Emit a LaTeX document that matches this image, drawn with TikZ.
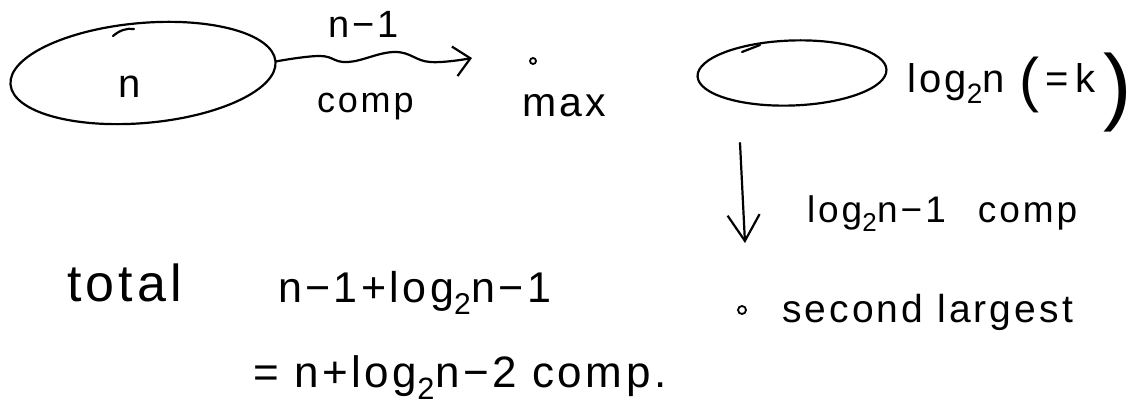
\documentclass[tikz,border=0pt]{standalone}
\usepackage{fontspec}
\setmainfont{Liberation Sans}[LetterSpace=8]
\usetikzlibrary{shapes.geometric,arrows.meta}
\begin{document}
\begin{tikzpicture}[x=1pt,y=-1pt,
  ink/.style={line width=2.2pt, line cap=round, line join=round},
  blob/.style={ink, draw, ellipse, inner sep=0pt},
  txt/.style={anchor=base west, inner sep=0pt, outer sep=0pt},
  fs/.style={font=\fontsize{#1}{#1}\selectfont},
  dotmark/.style={draw, line width=1.8pt, circle, inner sep=0pt, minimum size=#1},
  barbtip/.style={-{Straight Barb[length=#1, width=30pt]}}
]
\fill[white] (0,0) rectangle (1139,414);
\useasboundingbox (0,0) rectangle (1139,414);

% first set of n elements
\node[blob, minimum width=266pt, minimum height=100pt, rotate=5] (set1) at (143,73) {};
\draw[ink] (113,36) .. controls (120,30) and (127,28) .. (134,29);
\node[txt, fs=40] (nlabel) at (118,98) {n};

% wavy arrow to max
\coordinate (maxtip) at (472,58);
\draw[ink, barbtip=16pt] plot[smooth, tension=0.7] coordinates {(set1.east) (320,56) (348,62) (395,52) (430,62) (maxtip)};
\node[txt, fs=38] (nminus) at (328,38) {n−1};
\node[txt, fs=36] (comp1) at (317,113) {comp};

% max
\node[dotmark=6pt] (maxdot) at (533,61) {};
\node[txt, fs=41] (maxlbl) at (522,117) {max};

% second set of log n elements
\node[blob, minimum width=189pt, minimum height=65pt, rotate=2] (set2) at (792,73) {};
\draw[ink] (742,52) -- (760,45);
\node[txt, fs=40] (loglbl) at (907,93) {log\textsubscript{2}n\hspace{14pt}\raisebox{-8pt}{\fontsize{60}{60}\selectfont(}\,=\,k\hspace{8pt}\raisebox{-22pt}{\fontsize{85}{85}\selectfont)}};

% down arrow
\coordinate (dstart) at (740,143);
\coordinate (dend) at (745,243);
\draw[ink, -{Straight Barb[length=26pt, width=32pt]}] (dstart) -- (dend);
\node[txt, fs=37] (steplbl) at (807,222) {log\textsubscript{2}n−1\hspace{32pt}comp};

% second largest
\node[dotmark=8pt] (secdot) at (742,310) {};
\node[txt, fs=39] (seclbl) at (782,322) {second largest};

% total
\node[txt, fs=52] (totlbl) at (67,301) {total};
\node[txt, fs=43] (sum1) at (278,302) {n−1+log\textsubscript{2}n−1};
\node[txt, fs=44] (sum2) at (253,387) {= n+log\textsubscript{2}n−2 comp.};
\end{tikzpicture}
\end{document}
